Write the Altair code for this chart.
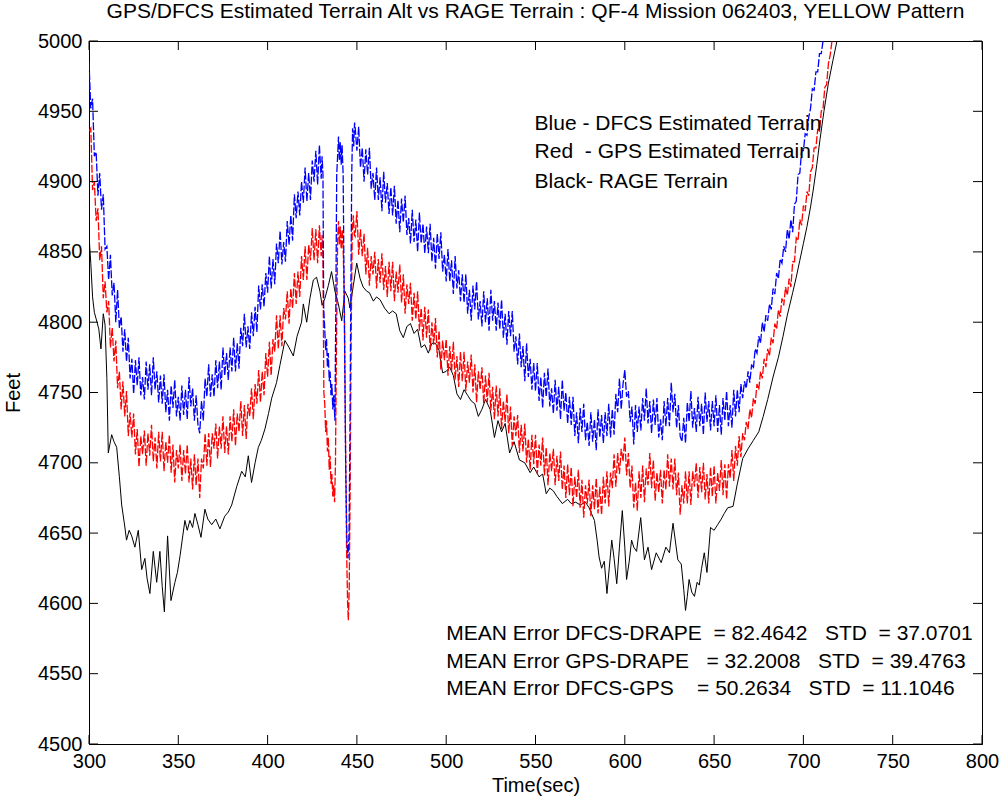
import altair as alt
import pandas as pd

TITLE = "GPS/DFCS Estimated Terrain Alt vs RAGE Terrain : QF-4 Mission 062403, YELLOW Pattern"
X_TICKS = [300, 350, 400, 450, 500, 550, 600, 650, 700, 750, 800]
Y_TICKS = [4500, 4550, 4600, 4650, 4700, 4750, 4800, 4850, 4900, 4950, 5000]

# ---- Blue: DFCS estimated terrain (1 s samples, then spike section, then 1 s samples)
BLUE_A_START = 300
BLUE_A = [
    4985, 4952, 4959, 4918, 4921, 4890, 4906, 4880, 4891, 4852,
    4854, 4830, 4848, 4819, 4828, 4800, 4823, 4796, 4804, 4779,
    4795, 4772, 4789, 4760, 4774, 4749, 4773, 4755, 4775, 4748,
    4761, 4745, 4772, 4752, 4770, 4748, 4775, 4752, 4765, 4743,
    4762, 4742, 4763, 4736, 4752, 4730, 4755, 4739, 4759, 4733,
    4747, 4730, 4755, 4734, 4752, 4731, 4761, 4740, 4753, 4730,
    4748, 4727, 4721, 4744, 4730, 4760, 4747, 4770, 4747, 4763,
    4747, 4773, 4753, 4772, 4752, 4782, 4762, 4778, 4759, 4782,
    4765, 4789, 4765, 4785, 4767, 4796, 4783, 4806, 4782, 4797,
    4781, 4807, 4790, 4811, 4793, 4826, 4809, 4827, 4811, 4835,
    4821, 4847, 4824, 4845, 4827, 4856, 4842, 4865, 4841, 4857,
    4843, 4872, 4855, 4876, 4858, 4891, 4874, 4893, 4876, 4900,
    4885, 4910, 4886, 4906, 4887, 4915, 4900, 4922, 4898, 4926,
    4902,
]
BLUE_SPIKE_T = [430.5, 431, 431.4, 432, 432.5, 433, 433.5, 434, 434.5, 435,
                435.5, 436, 436.5, 437, 437.7, 438.2, 438.7, 439.2, 439.7, 440.2,
                440.7, 441.2, 441.7, 442.3, 443, 443.7, 444.4, 445, 445.6, 446.1,
                446.6, 447.1, 447.6, 448.2, 448.7]
BLUE_SPIKE_V = [4918, 4905, 4810, 4795, 4780, 4788, 4768, 4778, 4758, 4765,
                4748, 4756, 4738, 4748, 4730, 4810, 4905, 4918, 4932, 4915,
                4928, 4912, 4926, 4905, 4800, 4700, 4645, 4632, 4650, 4720,
                4820, 4905, 4938, 4925, 4942]
BLUE_B_START = 449
BLUE_B = [
    4939, 4922, 4939, 4910, 4924, 4900, 4923, 4905, 4924, 4895,
    4906, 4887, 4910, 4887, 4903, 4879, 4907, 4885, 4899, 4877,
    4896, 4876, 4897, 4870, 4887, 4864, 4888, 4871, 4890, 4862,
    4874, 4856, 4880, 4857, 4873, 4850, 4878, 4856, 4870, 4849,
    4868, 4849, 4870, 4843, 4860, 4838, 4863, 4845, 4864, 4836,
    4848, 4829, 4852, 4829, 4844, 4820, 4847, 4824, 4837, 4815,
    4834, 4814, 4834, 4806, 4823, 4801, 4826, 4809, 4829, 4802,
    4815, 4797, 4822, 4800, 4817, 4794, 4823, 4801, 4815, 4794,
    4814, 4795, 4816, 4789, 4806, 4784, 4808, 4790, 4808, 4779,
    4790, 4770, 4792, 4768, 4783, 4758, 4785, 4761, 4774, 4752,
    4771, 4751, 4771, 4744, 4761, 4739, 4764, 4747, 4767, 4740,
    4753, 4735, 4759, 4737, 4754, 4731, 4759, 4737, 4750, 4728,
    4747, 4727, 4747, 4719, 4736, 4714, 4739, 4722, 4742, 4716,
    4729, 4712, 4736, 4715, 4731, 4709, 4738, 4718, 4734, 4714,
    4736, 4719, 4742, 4718, 4738, 4720, 4749, 4736, 4760, 4738,
    4756, 4766, 4747, 4751, 4729, 4740, 4713, 4741, 4722, 4740,
    4723, 4746, 4730, 4753, 4728, 4744, 4721, 4745, 4727, 4746,
    4718, 4731, 4716, 4744, 4726, 4746, 4726, 4757, 4736, 4749,
    4725, 4741, 4719, 4715, 4732, 4714, 4743, 4729, 4751, 4725,
    4739, 4722, 4747, 4726, 4742, 4720, 4750, 4729, 4744, 4723,
    4744, 4726, 4748, 4722, 4741, 4720, 4746, 4730, 4751, 4726,
    4741, 4725, 4752, 4733, 4752, 4736, 4756, 4746, 4758, 4753,
    4765, 4757, 4770, 4767, 4781, 4778, 4790, 4785, 4800, 4793,
    4805, 4801, 4813, 4809, 4824, 4820, 4835, 4831, 4845, 4842,
    4854, 4850, 4866, 4859, 4873, 4864, 4884, 4886, 4905, 4906,
    4922, 4922, 4934, 4933, 4946, 4952, 4966, 4965, 4978, 4978,
    4991, 4991, 5000, 5008,
]

# ---- Red: GPS estimated terrain
RED_A_START = 300
RED_A = [
    4936, 4938, 4894, 4900, 4872, 4881, 4844, 4854, 4817, 4829,
    4807, 4815, 4782, 4796, 4772, 4787, 4753, 4765, 4738, 4758,
    4733, 4751, 4719, 4736, 4718, 4735, 4706, 4724, 4697, 4719,
    4706, 4723, 4698, 4721, 4705, 4727, 4701, 4718, 4696, 4722,
    4701, 4722, 4694, 4715, 4700, 4720, 4693, 4713, 4686, 4709,
    4696, 4713, 4687, 4709, 4692, 4713, 4686, 4703, 4681, 4706,
    4684, 4703, 4675, 4703, 4696, 4721, 4698, 4721, 4697, 4721,
    4710, 4728, 4703, 4726, 4710, 4733, 4707, 4726, 4706, 4733,
    4715, 4738, 4712, 4735, 4722, 4744, 4719, 4741, 4717, 4742,
    4733, 4753, 4731, 4756, 4742, 4766, 4743, 4765, 4748, 4778,
    4761, 4786, 4762, 4788, 4779, 4805, 4781, 4805, 4783, 4810,
    4802, 4822, 4799, 4824, 4810, 4835, 4813, 4836, 4818, 4847,
    4830, 4854, 4830, 4855, 4844, 4867, 4844, 4866, 4842, 4869,
    4847,
]
RED_SPIKE_T = [430.5, 431, 431.5, 432, 432.5, 433, 433.5, 434, 434.5, 435,
               435.5, 436, 436.5, 437, 437.5, 438, 438.6, 439.2, 439.7, 440.2,
               440.7, 441.2, 441.8, 442.4, 443, 443.6, 444.2, 444.8, 445.2, 445.7,
               446.2, 446.8, 447.4, 448, 448.6]
RED_SPIKE_V = [4862, 4845, 4750, 4742, 4722, 4730, 4708, 4718, 4695, 4705,
               4685, 4692, 4676, 4684, 4672, 4700, 4790, 4858, 4872, 4855,
               4868, 4852, 4866, 4848, 4810, 4720, 4640, 4600, 4588, 4610,
               4680, 4790, 4865, 4876, 4862]
RED_B_START = 449
RED_B = [
    4861, 4879, 4848, 4866, 4847, 4863, 4834, 4853, 4826, 4847,
    4834, 4850, 4824, 4845, 4828, 4849, 4823, 4840, 4818, 4843,
    4822, 4843, 4815, 4836, 4821, 4841, 4814, 4834, 4806, 4827,
    4813, 4828, 4801, 4821, 4802, 4822, 4794, 4810, 4787, 4811,
    4789, 4809, 4780, 4800, 4784, 4803, 4775, 4794, 4766, 4787,
    4773, 4788, 4762, 4783, 4765, 4786, 4759, 4776, 4754, 4779,
    4758, 4779, 4751, 4772, 4757, 4777, 4750, 4770, 4743, 4765,
    4752, 4768, 4742, 4762, 4743, 4764, 4737, 4754, 4731, 4755,
    4733, 4753, 4724, 4744, 4729, 4749, 4721, 4740, 4712, 4733,
    4719, 4734, 4707, 4727, 4708, 4728, 4700, 4717, 4695, 4720,
    4699, 4720, 4692, 4713, 4698, 4718, 4691, 4711, 4684, 4707,
    4694, 4710, 4684, 4705, 4687, 4708, 4681, 4698, 4675, 4699,
    4677, 4697, 4669, 4690, 4675, 4695, 4668, 4688, 4661, 4684,
    4671, 4688, 4662, 4684, 4667, 4689, 4664, 4683, 4663, 4690,
    4671, 4694, 4669, 4693, 4682, 4706, 4683, 4707, 4692, 4710,
    4701, 4718, 4691, 4707, 4682, 4698, 4668, 4686, 4666, 4694,
    4675, 4698, 4672, 4696, 4684, 4707, 4682, 4702, 4673, 4693,
    4679, 4695, 4671, 4695, 4681, 4706, 4683, 4703, 4681, 4703,
    4677, 4693, 4663, 4684, 4671, 4694, 4671, 4694, 4670, 4694,
    4683, 4700, 4675, 4697, 4679, 4700, 4674, 4692, 4671, 4697,
    4676, 4698, 4671, 4693, 4680, 4702, 4677, 4699, 4674, 4699,
    4689, 4709, 4687, 4712, 4698, 4719, 4704, 4721, 4716, 4729,
    4724, 4738, 4732, 4746, 4742, 4756, 4752, 4765, 4760, 4774,
    4768, 4781, 4776, 4789, 4785, 4799, 4795, 4809, 4804, 4817,
    4812, 4825, 4819, 4831, 4825, 4843, 4843, 4860, 4858, 4873,
    4869, 4883, 4879, 4893, 4890, 4907, 4910, 4924, 4924, 4937,
    4936, 4950, 4952, 4967, 4969, 4984, 4990, 5000, 5010,
]

# ---- Black: RAGE terrain
BLACK_T = [300, 301, 302, 303, 304.5, 305.5, 306.7, 308, 309, 310, 310.8, 312.7, 314, 315.5, 317,
           318.3, 320, 321, 322.5, 323.9, 325.7, 327.6, 329.5, 331.3, 332.5, 334.1, 336, 337.9,
           339.7, 341, 342.2, 344, 345.9, 348.1, 349.5, 351, 352.5, 353.7, 355, 356.5, 358, 359.3,
           361, 362.7, 364.9, 366.5, 368.7, 371, 373.3, 376, 378, 379.9, 382.7, 385.5, 387.5, 389.2,
           391, 393, 394.8, 396.5, 398.5, 400.5, 402.3, 405, 407, 409.7, 412, 414.4, 416.5, 419,
           420, 421.9, 423.7, 425.6, 427.4, 429.3, 430.5, 432.1, 434, 435.8, 437.7, 439.6, 441.5,
           443.3, 445.2, 446.1, 448, 449.9, 451.8, 453.5, 455.5, 457, 459.2, 461, 463, 465.5, 468,
           470, 472, 474, 476, 478, 480, 482, 484, 486, 488, 490, 492, 494, 496, 498, 500, 502, 504,
           506, 508, 510, 512, 514, 516, 518, 520, 522, 524.6, 527, 529, 531, 533, 535.5, 538, 541,
           544, 547, 549, 552, 554, 556, 558, 560, 562, 565, 568, 570, 572.5, 575, 578, 580, 583,
           584.5, 585.6, 587, 588.5, 590, 591.5, 592.7, 594, 595.5, 597, 598.6, 600, 601, 602.5,
           603.8, 605, 606.6, 608.9, 611, 613, 615, 617.6, 620.4, 623, 625, 627, 629.7, 631.6, 633,
           634, 635, 636, 637.5, 639, 640.5, 641.7, 643, 644.5, 646, 648, 650, 652, 654, 655.7,
           657.6, 660.6, 663, 666, 669, 672, 675, 677.5, 680, 683, 686, 688.6, 691, 694, 696, 698,
           700, 702, 704, 705.5, 707.5, 709.3, 711.5, 714, 716.5, 718.8, 720]
BLACK_V = [4862, 4842, 4818, 4807, 4800, 4795, 4781, 4806, 4798, 4760, 4707, 4720, 4715, 4711, 4690,
           4670, 4655, 4645, 4652, 4648, 4640, 4652, 4624, 4632, 4618, 4607, 4637, 4615,
           4637, 4612, 4594, 4648, 4602, 4615, 4622, 4634, 4648, 4659, 4652, 4659, 4654, 4664,
           4656, 4647, 4667, 4660, 4656, 4660, 4653, 4662, 4665, 4670, 4683, 4694, 4690, 4705,
           4686, 4700, 4711, 4716, 4724, 4735, 4746, 4757, 4770, 4787, 4782, 4776, 4790, 4800,
           4813, 4800, 4817, 4830, 4832, 4822, 4812, 4817, 4826, 4836, 4822, 4813, 4801,
           4822, 4817, 4810, 4826, 4842, 4831, 4825, 4822, 4821, 4815, 4818, 4816, 4810, 4806,
           4808, 4806, 4794, 4789, 4797, 4799, 4792, 4795, 4782, 4784, 4778, 4785, 4785, 4780, 4764, 4765, 4768, 4762,
           4749, 4745, 4752, 4748, 4744, 4742, 4733, 4738, 4745, 4738, 4718, 4730, 4722, 4728, 4707, 4715, 4702,
           4700, 4693, 4697, 4690, 4692, 4678, 4682, 4680, 4676, 4671, 4674, 4671, 4672, 4670, 4672, 4668, 4659,
           4645, 4633, 4625, 4630, 4607, 4628, 4645, 4632, 4614, 4640, 4666, 4640, 4617, 4630,
           4645, 4640, 4637, 4661, 4631, 4640, 4624, 4636, 4629, 4640, 4636, 4657, 4631, 4628, 4610,
           4595, 4605, 4617, 4608, 4605, 4615, 4613, 4625, 4636, 4622, 4654, 4652, 4656, 4660, 4664,
           4668, 4669, 4685, 4703, 4710, 4716, 4722, 4733, 4745, 4761, 4775, 4790, 4805, 4821, 4832, 4844,
           4856, 4868, 4882, 4894, 4912, 4930, 4950, 4970, 4986, 5000, 5010]

LEGEND_LINES = ["Blue - DFCS Estimated Terrain",
                "Red\u00a0 - GPS Estimated Terrain",
                "Black- RAGE Terrain"]
STATS_LINES = [
    "MEAN Error DFCS-DRAPE\u00a0 = 82.4642\u00a0\u00a0 STD\u00a0 = 37.0701",
    "MEAN Error GPS-DRAPE\u00a0\u00a0 = 32.2008\u00a0\u00a0 STD\u00a0 = 39.4763",
    "MEAN Error DFCS-GPS\u00a0\u00a0\u00a0 = 50.2634\u00a0\u00a0 STD\u00a0 = 11.1046",
]

W, H = 893, 703
FONT = "Liberation Sans"
FS = 20
FS_TXT = 21


def seg(start, vals):
    return list(range(start, start + len(vals)))


blue = pd.DataFrame({"t": seg(BLUE_A_START, BLUE_A) + BLUE_SPIKE_T + seg(BLUE_B_START, BLUE_B),
                     "v": BLUE_A + BLUE_SPIKE_V + BLUE_B})
red = pd.DataFrame({"t": seg(RED_A_START, RED_A) + RED_SPIKE_T + seg(RED_B_START, RED_B),
                    "v": RED_A + RED_SPIKE_V + RED_B})
black = pd.DataFrame({"t": BLACK_T, "v": BLACK_V})

xs = alt.Scale(domain=[300, 800], nice=False, zero=False)
ys = alt.Scale(domain=[4500, 5000], nice=False, zero=False)

x_axis = alt.Axis(values=X_TICKS, format="d", title="Time(sec)", ticks=False, grid=False,
                  labelPadding=7, titlePadding=4, domainColor="black", labelFlush=False)
y_axis = alt.Axis(values=Y_TICKS, format="d", title="Feet", ticks=False, grid=False,
                  labelPadding=7, titlePadding=14, domainColor="black", labelFlush=False)


def X():
    return alt.X("t:Q", scale=xs, axis=x_axis)


def Y():
    return alt.Y("v:Q", scale=ys, axis=y_axis)


def line_layer(df, color, dash=None, width=1.0):
    kw = dict(color=color, strokeWidth=width, clip=True)
    if dash:
        kw["strokeDash"] = dash
    return alt.Chart(df).mark_line(**kw).encode(x=X(), y=Y())


red_l = line_layer(red, "#ff0000", [8, 2], 1.3)
blue_l = line_layer(blue, "#0000ff", [8, 2], 1.3)
black_l = line_layer(black, "#000000", None, 1.0)

legend_df = pd.DataFrame({"t": [549.5, 549.5, 549.5], "v": [4941, 4921, 4900], "label": LEGEND_LINES})
stats_df = pd.DataFrame({"t": [500, 500, 500], "v": [4578, 4558, 4539], "label": STATS_LINES})


def text_layer(df):
    return alt.Chart(df).mark_text(align="left", baseline="middle", font=FONT, fontSize=FS_TXT,
                                   color="black").encode(x=X(), y=Y(), text="label:N")


TL = 9
xt = pd.DataFrame({"t": X_TICKS})
yt = pd.DataFrame({"v": Y_TICKS})
tick_x_bot = alt.Chart(xt).mark_rule(color="black", strokeWidth=1).encode(
    x=X(), y=alt.value(H), y2=alt.value(H - TL))
tick_x_top = alt.Chart(xt).mark_rule(color="black", strokeWidth=1).encode(
    x=X(), y=alt.value(0), y2=alt.value(TL))
tick_y_left = alt.Chart(yt).mark_rule(color="black", strokeWidth=1).encode(
    y=Y(), x=alt.value(0), x2=alt.value(TL))
tick_y_right = alt.Chart(yt).mark_rule(color="black", strokeWidth=1).encode(
    y=Y(), x=alt.value(W), x2=alt.value(W - TL))

chart = alt.layer(
    black_l, red_l, blue_l,
    text_layer(legend_df), text_layer(stats_df),
    tick_x_bot, tick_x_top, tick_y_left, tick_y_right,
).properties(
    width=W, height=H,
    title=alt.TitleParams(text=TITLE, font=FONT, fontSize=FS_TXT, fontWeight="normal",
                          color="black", anchor="middle", offset=9),
    padding={"left": 89, "top": 41, "right": 18, "bottom": 55},
    autosize=alt.AutoSizeParams(type="none"),
    background="white",
).configure_axis(
    labelFont=FONT, labelFontSize=FS, labelColor="black",
    titleFont=FONT, titleFontSize=FS, titleColor="black", titleFontWeight="normal",
    domainColor="black", domainWidth=1,
).configure_view(stroke="black", strokeWidth=1)

chart.save("out.html", embed_options={"renderer": "svg", "actions": False})
